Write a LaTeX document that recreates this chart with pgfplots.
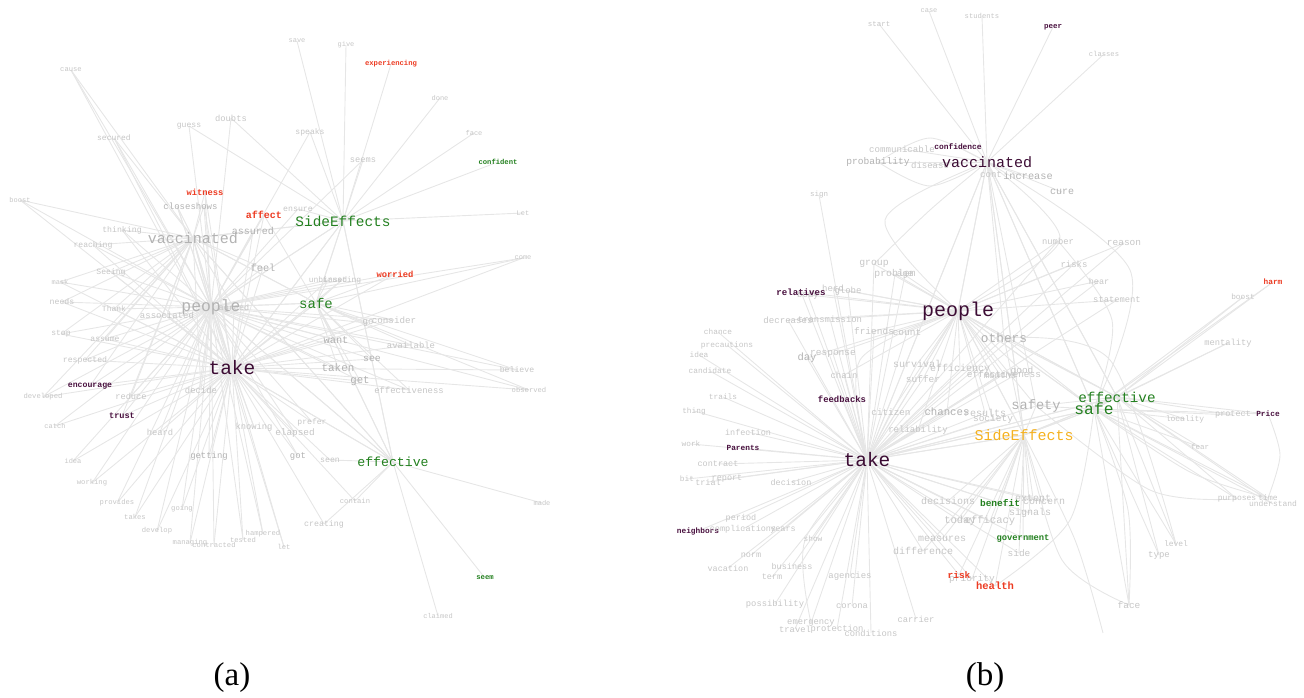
\documentclass[border=0pt]{standalone}
\usepackage{pgfplots}
\pgfplotsset{compat=1.18}
\usepackage{pgfplotstable}
\usepackage{fontspec}
\setmainfont{Liberation Serif}
\newfontfamily\wordfont{Liberation Mono}

\definecolor{edgecol}{HTML}{E6E6E6}
% word colour codes: 1 light grey, 2 grey, 3 red, 4 green, 5 purple (bold),
% 6 green, 7 purple, 8 orange (regular)
\definecolor{c1}{HTML}{C6C6C6}
\definecolor{c2}{HTML}{B2B2B2}
\definecolor{c3}{HTML}{EC3B22}
\definecolor{c4}{HTML}{23801F}
\definecolor{c5}{HTML}{4A1240}
\definecolor{c6}{HTML}{23801F}
\definecolor{c7}{HTML}{3C0C34}
\definecolor{c8}{HTML}{F5B11F}
\expandafter\def\csname wf1\endcsname{\wordfont}
\expandafter\def\csname wf2\endcsname{\wordfont}
\expandafter\def\csname wf3\endcsname{\wordfont\bfseries}
\expandafter\def\csname wf4\endcsname{\wordfont\bfseries}
\expandafter\def\csname wf5\endcsname{\wordfont\bfseries}
\expandafter\def\csname wf6\endcsname{\wordfont}
\expandafter\def\csname wf7\endcsname{\wordfont}
\expandafter\def\csname wf8\endcsname{\wordfont}

% ---------- panel (a): x y fontsize colourcode word ----------
\pgfplotstableread{
x y s c w
122 230 8.2 1 thinking
93 245 8.1 1 reaching
111 272 8.1 1 Seeing
60 282 7.0 1 mask
62 302 8.2 1 needs
114 309 8.0 1 Thank
167 315 9.0 1 associated
61 334 8.0 1 stop
105 339 8.1 1 assume
85 360 8.2 1 respected
90 386 8.2 5 encourage
43 397 7.2 1 developed
131 396 8.7 1 reduce
201 390 8.9 1 decide
122 416 8.6 5 trust
20 200 7.0 1 boost
71 70 7.2 1 cause
114 138 8.0 1 secured
205 192 8.8 3 witness
177 206 9.0 2 close
204 206 9.0 2 shows
253 231 10.0 2 assured
263 268 10.3 2 feel
234 308 8.5 1 agreed
}\LA
\pgfplotstableread{
x y s c w
55 426 7.0 1 catch
160 432 8.8 1 heard
254 427 8.8 1 knowing
312 422 8.1 1 prefer
295 433 9.4 1 elapsed
73 461 7.0 1 idea
209 456 8.9 2 getting
298 456 8.9 2 got
92 483 7.2 1 working
117 503 7.2 1 provides
182 509 7.2 1 going
135 517 7.2 1 takes
157 531 7.2 1 develop
190 543 7.2 1 managing
214 545 7.2 1 contracted
243 540 7.2 1 tested
263 534 7.2 1 hampered
284 547 7.2 1 let
}\LB
\pgfplotstableread{
x y s c w
395 274 8.8 3 worried
328 280 8.0 1 unbiased
342 280 8.0 1 trusting
523 258 7.0 1 come
368 323 9.0 1 go
394 320 9.2 1 consider
336 340 10.3 2 want
411 345 8.9 1 available
372 359 9.8 2 see
517 370 8.2 1 believe
338 368 10.9 2 taken
360 381 10.7 2 get
409 390 8.9 1 effectiveness
529 390 7.2 1 observed
264 215 10.0 3 affect
}\LR
\pgfplotstableread{
x y s c w
297 41 7.0 1 save
346 45 7.0 1 give
391 64 7.2 3 experiencing
440 98 7.0 1 done
474 133 7.0 1 face
498 162 7.2 4 confident
523 213 7.0 1 Let
}\LSa
\pgfplotstableread{
x y s c w
189 126 8.1 1 guess
231 118 8.8 1 doubts
310 132 8.1 1 speaks
363 160 8.7 1 seems
298 209 8.2 1 ensure
}\LSb
\pgfplotstableread{
x y s c w
542 503 7.0 1 made
485 578 7.2 4 seem
438 616 7.0 1 claimed
}\LEa
\pgfplotstableread{
x y s c w
355 501 7.2 1 contain
324 524 8.3 1 creating
330 460 8.2 1 seen
}\LEb
\pgfplotstableread{
x y s c w
193 238 15.0 2 vaccinated
211 307 16.4 2 people
232 368 19.5 7 take
343 221 14.4 6 SideEffects
316 303 14.0 6 safe
393 462 13.2 6 effective
}\LH

% ---------- panel (b) ----------
\pgfplotstableread{
x y s c w
929 11 7.0 1 case
879 24 7.5 1 start
982 16 7.2 1 students
1053 27 7.5 5 peer
1104 54 7.2 1 classes
902 149 9.1 1 communicable
958 147 7.9 5 confidence
878 162 9.6 2 probability
930 165 9.0 1 disease
991 175 9.0 1 cont
1028 176 10.3 2 increase
1062 192 10.0 2 cure
}\RV
\pgfplotstableread{
x y s c w
874 264 9.8 1 group
895 274 9.8 1 problem
905 275 9.0 1 age
808 295 9.0 1 body
833 288 9.0 1 herd
848 291 9.0 1 globe
801 292 9.1 5 relatives
788 320 9.1 1 decreases
830 319 8.9 1 transmission
874 331 9.5 1 friends
907 332 9.5 1 count
807 358 10.5 2 day
833 354 9.5 1 response
917 364 10.0 1 survival
960 369 10.0 1 efficiency
844 375 9.0 1 chain
923 379 9.5 1 suffer
891 412 9.3 1 citizen
947 412 10.7 2 chances
985 413 10.0 1 results
993 419 9.5 1 society
918 430 9.0 1 reliability
1004 374 9.5 1 effectiveness
1000 375 9.0 1 months
1022 371 9.5 1 good
1058 241 8.8 1 number
1124 243 9.5 1 reason
1074 264 9.0 1 risks
1099 281 8.5 1 hear
1117 300 8.8 1 statement
}\RP
\pgfplotstableread{
x y s c w
819 195 7.5 1 sign
718 332 7.8 1 chance
727 345 7.9 1 precautions
699 355 7.8 1 idea
710 371 7.9 1 candidate
723 397 7.8 1 trails
842 399 8.9 5 feedbacks
694 411 7.8 1 thing
748 432 8.5 1 infection
691 444 7.8 1 work
743 448 7.8 5 Parents
718 464 8.5 1 contract
687 479 7.8 1 bit
708 482 8.5 1 trial
727 479 8.5 1 report
791 482 8.5 1 decision
741 518 8.5 1 period
698 531 7.8 5 neighbors
743 529 8.5 1 complications
783 530 8.5 1 years
813 539 7.8 1 show
751 555 8.5 1 norm
728 568 8.5 1 vacation
792 566 8.5 1 business
772 577 8.5 1 term
850 576 9.0 1 agencies
775 604 8.8 1 possibility
852 606 8.8 1 corona
916 619 8.8 1 carrier
811 623 8.8 1 emergency
795 629 8.8 1 travel
837 629 8.8 1 protection
871 633 8.8 1 conditions
}\RT
\pgfplotstableread{
x y s c w
1273 282 7.8 3 harm
1243 297 7.8 1 boost
1228 343 8.8 1 mentality
1185 419 8.0 1 locality
1233 415 8.5 1 protect
1268 414 7.8 5 Price
1200 447 7.5 1 fear
1237 499 8.0 1 purposes
1268 498 8.0 1 time
1273 504 8.0 1 understand
1176 544 8.0 1 level
1159 555 9.0 1 type
1129 605 9.5 1 face
}\RS
\pgfplotstableread{
x y s c w
948 501 10.0 1 decisions
1033 498 10.0 1 extent
1044 502 10.0 1 concern
1000 503 9.5 4 benefit
1030 513 10.0 1 signals
960 521 10.5 1 today
990 521 10.5 1 efficacy
942 539 10.0 1 measures
1023 538 8.8 4 government
923 551 10.0 1 difference
1019 553 9.5 1 side
972 579 9.5 1 priority
959 575 9.5 3 risk
995 586 10.5 3 health
}\RSE
\pgfplotstableread{
x y s c w
1004 338 12.8 2 others
1036 406 13.7 2 safety
987 162 15.0 7 vaccinated
958 311 20.0 7 people
867 460 19.5 7 take
1024 435 15.0 8 SideEffects
1117 397 14.3 6 effective
1094 409 16.3 6 safe
}\RH

\pgfplotsset{
  edge/.style={draw=edgecol, line width=0.9pt, mark=none, forget plot},
  words/.style={draw=none, mark=none, forget plot,
    point meta=explicit symbolic,
    nodes near coords={\pgfplotspointmeta},
    visualization depends on={\thisrow{s}\as\ws},
    visualization depends on={\thisrow{c}\as\wc},
    every node near coord/.append style={anchor=center, inner sep=0pt,
      /utils/exec={\pgfmathtruncatemacro\wci{\wc}},
      text=c\wci,
      font={\csname wf\wci\endcsname\fontsize{\ws}{\ws}\selectfont}}},
}
% edges from every word of a table to one hub
\newcommand\hub[3]{\addplot[edge, quiver={u=#1-\thisrow{x}, v=#2-\thisrow{y}}] table {#3};}
% a curved edge through three points
\newcommand\arc[3]{\addplot[edge, smooth] coordinates {#1 #2 #3};}

\begin{document}
\begin{tikzpicture}
\begin{axis}[
  width=1304pt, height=697pt, scale only axis,
  xmin=0, xmax=1304, ymin=0, ymax=697, y dir=reverse,
  hide axis, clip=false]

% panel (a) edges
\hub{232}{368}{\LA}\hub{211}{307}{\LA}\hub{193}{238}{\LA}
\hub{232}{368}{\LB}\hub{211}{307}{\LB}
\hub{232}{368}{\LR}\hub{211}{307}{\LR}\hub{316}{303}{\LR}
\hub{343}{221}{\LSa}
\hub{343}{221}{\LSb}\hub{211}{307}{\LSb}
\hub{393}{462}{\LEa}
\hub{393}{462}{\LEb}\hub{232}{368}{\LEb}
\hub{232}{368}{\LH}\hub{211}{307}{\LH}\hub{193}{238}{\LH}
\hub{343}{221}{\LH}\hub{316}{303}{\LH}\hub{393}{462}{\LH}

% panel (b) edges
\hub{987}{162}{\RV}
\hub{958}{311}{\RP}\hub{867}{460}{\RP}
\hub{867}{460}{\RT}
\hub{1094}{409}{\RS}\hub{1117}{397}{\RS}
\hub{1024}{435}{\RSE}\hub{867}{460}{\RSE}
\hub{987}{162}{\RH}\hub{958}{311}{\RH}\hub{867}{460}{\RH}
\hub{1024}{435}{\RH}\hub{1094}{409}{\RH}\hub{1117}{397}{\RH}

% panel (b) curved edges
\arc{(987,162)}{(885,220)}{(958,311)}
\arc{(987,162)}{(1130,270)}{(1094,409)}
\arc{(987,162)}{(1060,240)}{(958,311)}
\arc{(878,162)}{(930,138)}{(987,162)}
\arc{(878,162)}{(930,186)}{(987,162)}
\arc{(1094,409)}{(1190,472)}{(1268,498)}
\arc{(1268,414)}{(1280,455)}{(1268,498)}
\arc{(1094,409)}{(1128,510)}{(1129,605)}
\arc{(1024,435)}{(1062,560)}{(1129,605)}
\arc{(1024,435)}{(1075,540)}{(1103,633)}
\arc{(995,586)}{(1070,520)}{(1094,409)}
\arc{(1036,406)}{(1150,490)}{(1237,499)}
\arc{(867,460)}{(805,540)}{(811,623)}
\arc{(958,311)}{(860,360)}{(867,460)}
\arc{(1058,241)}{(1112,320)}{(1094,409)}
\arc{(874,264)}{(930,210)}{(987,162)}
\arc{(1004,338)}{(1110,360)}{(1176,544)}

% words
\addplot[words] table[meta=w] {\LA};
\addplot[words] table[meta=w] {\LB};
\addplot[words] table[meta=w] {\LR};
\addplot[words] table[meta=w] {\LSa};
\addplot[words] table[meta=w] {\LSb};
\addplot[words] table[meta=w] {\LEa};
\addplot[words] table[meta=w] {\LEb};
\addplot[words] table[meta=w] {\LH};
\addplot[words] table[meta=w] {\RV};
\addplot[words] table[meta=w] {\RP};
\addplot[words] table[meta=w] {\RT};
\addplot[words] table[meta=w] {\RS};
\addplot[words] table[meta=w] {\RSE};
\addplot[words] table[meta=w] {\RH};

\node[font=\fontsize{33}{33}\selectfont] at (axis cs:232,678) {(a)};
\node[font=\fontsize{33}{33}\selectfont] at (axis cs:985,678) {(b)};
\end{axis}
\pgfresetboundingbox
\path[use as bounding box] (current axis.south west) rectangle (current axis.north east);
\end{tikzpicture}
\end{document}
